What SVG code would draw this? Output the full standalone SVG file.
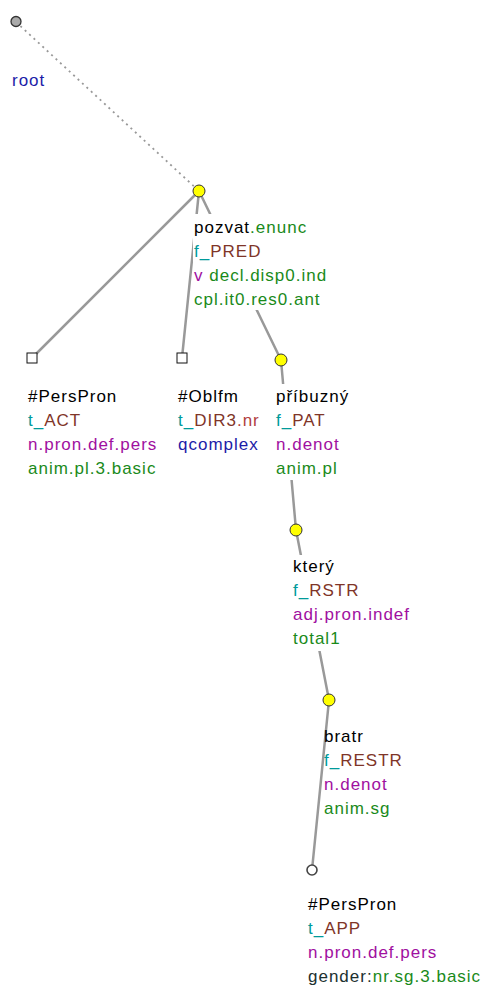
<svg xmlns="http://www.w3.org/2000/svg" width="485" height="987" viewBox="0 0 485 987">
<style>
text{font-family:"Liberation Sans",Arial,sans-serif;font-size:17px;letter-spacing:1px}
.e{stroke:#999;stroke-width:2.5;fill:none;stroke-linecap:round}
.d{stroke:#999;stroke-width:1.8;fill:none;stroke-dasharray:2 4}
.bg{fill:#fff}
.y{fill:#ffff00;stroke:#333;stroke-width:1}
.sq{fill:#fff;stroke:#111;stroke-width:1}
.lem{fill:#000}
.gr{fill:#1a8a1a}
.tl{fill:#009a9a}
.br{fill:#7f3528}
.pu{fill:#a010a0}
.bl{fill:#1c1ca8}
.rd{fill:#b04040}
.dk{fill:#203030}
</style>
<rect width="485" height="987" fill="#fff"/>
<g id="connectors">
<line class="d" x1="16" y1="22" x2="199" y2="191"/>
<line class="e" x1="199" y1="191" x2="32" y2="358"/>
<line class="e" x1="199" y1="191" x2="182" y2="358"/>
<line class="e" x1="199" y1="191" x2="281" y2="360"/>
<line class="e" x1="281" y1="360" x2="296" y2="530"/>
<line class="e" x1="296" y1="530" x2="329" y2="700"/>
<line class="e" x1="329" y1="700" x2="312" y2="870"/>
</g>
<g id="root">
<circle cx="16" cy="21.5" r="5" fill="#aaa" stroke="#333" stroke-width="1.3"/>
<text x="12" y="86" class="bl">root</text>
</g>
<g id="pozvat">
<rect class="bg" x="193" y="214" width="140" height="96"/>
<circle class="y" cx="199" cy="191" r="6"/>
<text x="194" y="233"><tspan class="lem">pozvat</tspan><tspan class="gr">.enunc</tspan></text>
<text x="194" y="257"><tspan class="tl">f_</tspan><tspan class="br">PRED</tspan></text>
<text x="194" y="281"><tspan class="pu">v</tspan><tspan class="gr"> decl.disp0.ind</tspan></text>
<text x="194" y="305" class="gr">cpl.it0.res0.ant</text>
</g>
<g id="perspron1">
<rect class="sq" x="27" y="353" width="10" height="10"/>
<text x="28" y="402" class="lem">#PersPron</text>
<text x="28" y="426"><tspan class="tl">t_</tspan><tspan class="br">ACT</tspan></text>
<text x="28" y="450" class="pu">n.pron.def.pers</text>
<text x="28" y="474" class="gr">anim.pl.3.basic</text>
</g>
<g id="oblfm">
<rect class="sq" x="177" y="353" width="10" height="10"/>
<text x="178" y="402" class="lem">#Oblfm</text>
<text x="178" y="426"><tspan class="tl">t_</tspan><tspan class="br">DIR3</tspan><tspan class="rd">.nr</tspan></text>
<text x="178" y="450" class="bl">qcomplex</text>
</g>
<g id="pribuzny">
<rect class="bg" x="275" y="384" width="85" height="96"/>
<circle class="y" cx="281" cy="360" r="6"/>
<text x="276" y="402" class="lem">příbuzný</text>
<text x="276" y="426"><tspan class="tl">f_</tspan><tspan class="br">PAT</tspan></text>
<text x="276" y="450" class="pu">n.denot</text>
<text x="276" y="474" class="gr">anim.pl</text>
</g>
<g id="ktery">
<rect class="bg" x="292" y="555" width="135" height="96"/>
<circle class="y" cx="296" cy="530" r="6"/>
<text x="293" y="572" class="lem">který</text>
<text x="293" y="596"><tspan class="tl">f_</tspan><tspan class="br">RSTR</tspan></text>
<text x="293" y="620" class="pu">adj.pron.indef</text>
<text x="293" y="644" class="gr">total1</text>
</g>
<g id="bratr">
<circle class="y" cx="329" cy="700" r="6"/>
<text x="324" y="742" class="lem">bratr</text>
<text x="324" y="766"><tspan class="tl">f_</tspan><tspan class="br">RESTR</tspan></text>
<text x="324" y="790" class="pu">n.denot</text>
<text x="324" y="814" class="gr">anim.sg</text>
</g>
<g id="perspron2">
<circle cx="312" cy="870" r="5" fill="#fff" stroke="#444" stroke-width="1.6"/>
<text x="308" y="910" class="lem">#PersPron</text>
<text x="308" y="934"><tspan class="tl">t_</tspan><tspan class="br">APP</tspan></text>
<text x="308" y="958" class="pu">n.pron.def.pers</text>
<text x="308" y="982"><tspan class="dk">gender:</tspan><tspan class="gr">nr.sg.3.basic</tspan></text>
</g>
</svg>
